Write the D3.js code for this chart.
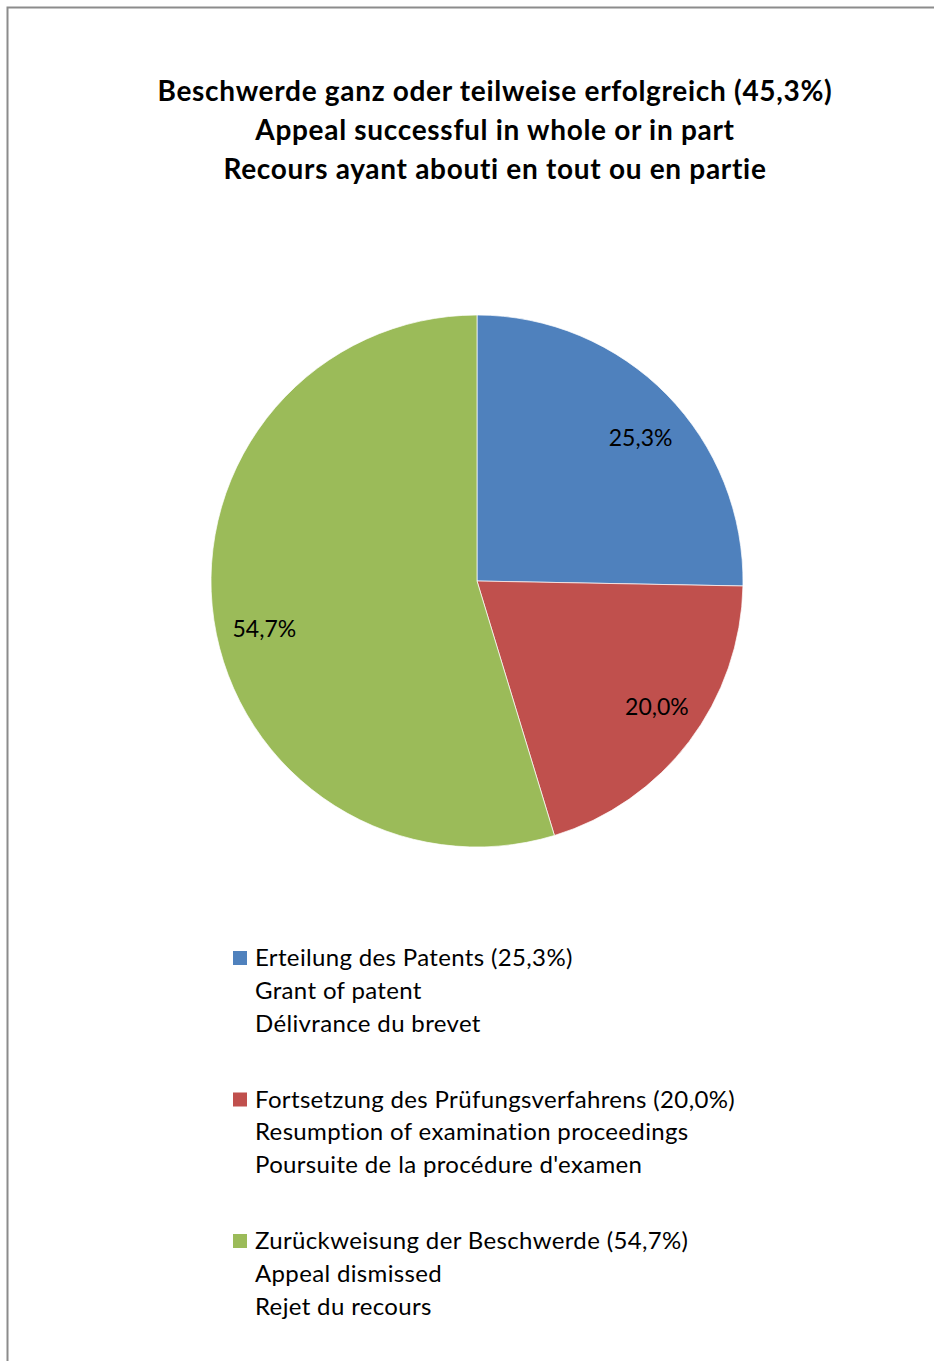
<!DOCTYPE html>
<html><head><meta charset="utf-8">
<script src="https://cdn.jsdelivr.net/npm/d3@7/dist/d3.min.js"></script>
<style>body{margin:0;background:#fff}svg{display:block}</style>
</head><body><div id="chart"></div>
<script>
const titleLines = ["Beschwerde ganz oder teilweise erfolgreich (45,3%)","Appeal successful in whole or in part","Recours ayant abouti en tout ou en partie"];
const categories = ["Erteilung des Patents","Fortsetzung des Prüfungsverfahrens","Zurückweisung der Beschwerde"];
const values = [25.3, 20.0, 54.7];
const valueLabels = ["25,3%","20,0%","54,7%"];
const legendLines = [
  ["Erteilung des Patents (25,3%)","Grant of patent","Délivrance du brevet"],
  ["Fortsetzung des Prüfungsverfahrens (20,0%)","Resumption of examination proceedings","Poursuite de la procédure d'examen"],
  ["Zurückweisung der Beschwerde (54,7%)","Appeal dismissed","Rejet du recours"]
];
const colors = ["#4F81BD","#C0504D","#9BBB59"];

// layout: small best-fit nudges for the data labels (px)
const labelNudge = [[8,10],[6,-6],[3,15.5]];

const W=934,H=1361;
const font="Lato, 'Open Sans', sans-serif";
const svg=d3.select("#chart").append("svg").attr("width",W).attr("height",H);
svg.append("rect").attr("x",7.5).attr("y",7.5).attr("width",W+10).attr("height",H+10)
  .attr("fill","none").attr("stroke","#8c8c8c").attr("stroke-width",2);

const title=svg.append("text").attr("text-anchor","middle").attr("font-family",font)
  .attr("font-weight","bold").attr("font-size",28).attr("letter-spacing",0.7).attr("fill","#000");
titleLines.forEach((t,i)=>title.append("tspan").attr("x",495).attr("y",101+i*39).text(t));

const cx=477,cy=581,r=266;
const pie=d3.pie().sort(null).value(d=>d)(values);
const arc=d3.arc().innerRadius(0).outerRadius(r);
const labelArc=d3.arc().innerRadius(218).outerRadius(218);
const g=svg.append("g").attr("transform",`translate(${cx},${cy})`);
g.selectAll("path").data(pie).join("path").attr("d",arc).attr("fill",(d,i)=>colors[i])
  .attr("stroke","#fff").attr("stroke-width",0.7);
g.selectAll("text").data(pie).join("text")
  .attr("transform",(d,i)=>{const c=labelArc.centroid(d);return `translate(${c[0]+labelNudge[i][0]},${c[1]+labelNudge[i][1]})`;})
  .attr("text-anchor","middle").attr("dy","0.35em")
  .attr("font-family",font).attr("font-size",23).attr("fill","#000")
  .text((d,i)=>valueLabels[i]);

const leg=svg.append("g");
legendLines.forEach((lines,i)=>{
  const y0=958+i*141.5;
  leg.append("rect").attr("x",233).attr("y",y0-7).attr("width",14).attr("height",14).attr("fill",colors[i]);
  const t=leg.append("text").attr("font-family",font).attr("font-size",24).attr("letter-spacing",0.35).attr("fill","#000");
  lines.forEach((l,j)=>t.append("tspan").attr("x",255).attr("y",y0+8+j*32.8).text(l));
});
</script></body></html>
